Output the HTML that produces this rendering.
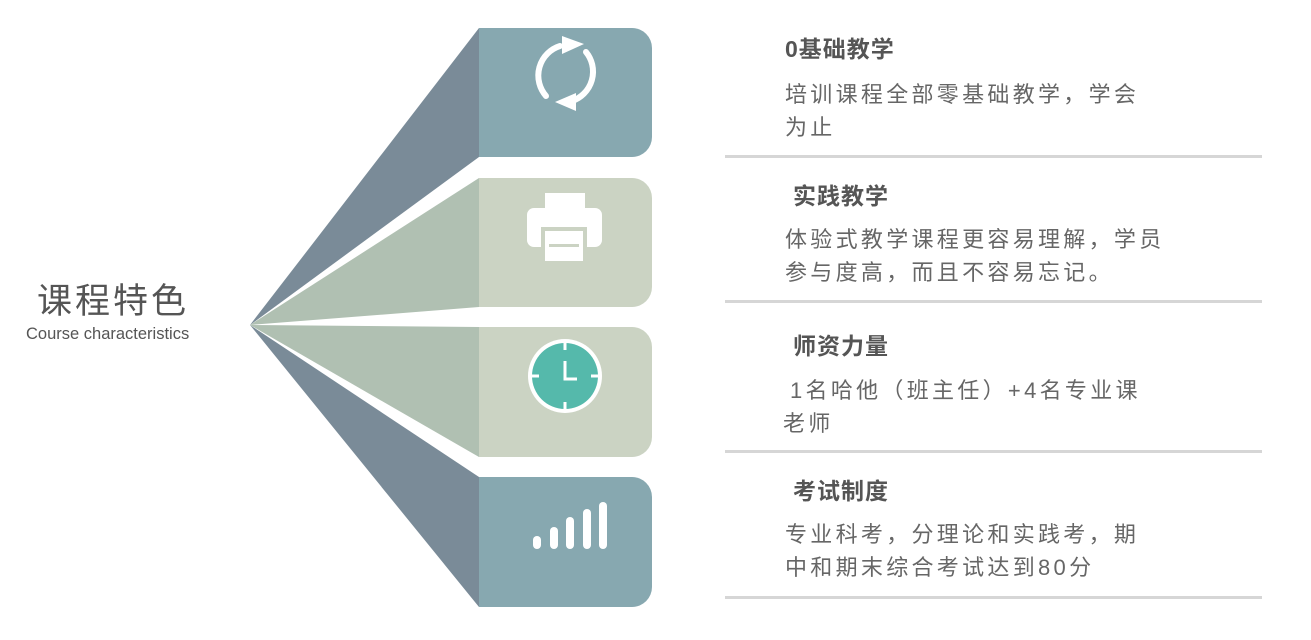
<!DOCTYPE html>
<html><head><meta charset="utf-8"><style>
body{margin:0;width:1311px;height:640px;background:#fff;position:relative;overflow:hidden;font-family:"Liberation Sans","Noto Sans CJK SC",sans-serif;}
.t{position:absolute;left:785px;font-size:23px;font-weight:bold;color:#555;letter-spacing:1px;line-height:26px;}
.d{position:absolute;left:785px;font-size:22px;color:#666;letter-spacing:3.3px;line-height:33px;}
.sep{position:absolute;left:725px;width:537px;height:3px;background:#d6d6d6;}
</style></head><body>
<svg width="1311" height="640" style="position:absolute;left:0;top:0">
<polygon points="250,325 479,28 479,157" fill="#7a8b98"/>
<polygon points="250,325 479,178 479,307" fill="#b0c0b2"/>
<polygon points="250,325 479,327 479,457" fill="#b0c0b2"/>
<polygon points="250,325 479,477 479,607" fill="#7a8b98"/>
<path d="M479,28 H632 a20,20 0 0 1 20,20 V137 a20,20 0 0 1 -20,20 H479Z" fill="#87a8b0"/>
<path d="M479,178 H632 a20,20 0 0 1 20,20 V287 a20,20 0 0 1 -20,20 H479Z" fill="#cbd3c3"/>
<path d="M479,327 H632 a20,20 0 0 1 20,20 V437 a20,20 0 0 1 -20,20 H479Z" fill="#cbd3c3"/>
<path d="M479,477 H632 a20,20 0 0 1 20,20 V587 a20,20 0 0 1 -20,20 H479Z" fill="#87a8b0"/>
<g fill="none" stroke="#fff" stroke-width="6" stroke-linecap="round">
<path d="M560,46 A31,31 0 0 0 546,96"/>
<path d="M586,52 A31,31 0 0 1 572,101"/>
</g>
<polygon points="562,36 584,44 562,54" fill="#fff"/>
<polygon points="576,93 555,102 576,111" fill="#fff"/>
<rect x="545" y="193" width="40" height="20" fill="#fff"/>
<rect x="527" y="208" width="75" height="39" rx="7" fill="#fff"/>
<rect x="541" y="227" width="46" height="37" fill="#cbd3c3"/>
<rect x="545" y="231" width="38" height="30" fill="#fff"/>
<rect x="549" y="244" width="30" height="3" fill="#cbd3c3"/>
<circle cx="565" cy="376" r="37" fill="#fff"/>
<circle cx="565" cy="376" r="33" fill="#55b9ab"/>
<g stroke="#fff" stroke-width="3">
<line x1="565" y1="343" x2="565" y2="350"/><line x1="565" y1="402" x2="565" y2="409"/>
<line x1="532" y1="376" x2="539" y2="376"/><line x1="591" y1="376" x2="598" y2="376"/>
<polyline points="565,361 565,379 577,379" fill="none"/>
</g>
<g stroke="#fff" stroke-width="8" stroke-linecap="round">
<line x1="537" y1="540" x2="537" y2="545"/>
<line x1="554" y1="531" x2="554" y2="545"/>
<line x1="570" y1="521" x2="570" y2="545"/>
<line x1="587" y1="513" x2="587" y2="545"/>
<line x1="603" y1="506" x2="603" y2="545"/>
</g>
</svg>
<div style="position:absolute;left:37px;top:273px;font-size:35px;color:#555;letter-spacing:3px;">课程特色</div>
<div style="position:absolute;left:26px;top:325px;font-size:16.5px;color:#555;">Course characteristics</div>

<div class="t" style="top:36px">0基础教学</div>
<div class="d" style="top:78px">培训课程全部零基础教学，学会<br>为止</div>
<div class="sep" style="top:155px"></div>

<div class="t" style="top:183px;left:793px">实践教学</div>
<div class="d" style="top:223px">体验式教学课程更容易理解，学员<br>参与度高，而且不容易忘记。</div>
<div class="sep" style="top:300px"></div>

<div class="t" style="top:333px;left:793px">师资力量</div>
<div class="d" style="top:374px;left:790px">1名哈他（班主任）+4名专业课</div>
<div class="d" style="top:407px;left:783px">老师</div>
<div class="sep" style="top:450px"></div>

<div class="t" style="top:478px;left:793px">考试制度</div>
<div class="d" style="top:518px">专业科考，分理论和实践考，期<br>中和期末综合考试达到80分</div>
<div class="sep" style="top:596px"></div>
</body></html>
